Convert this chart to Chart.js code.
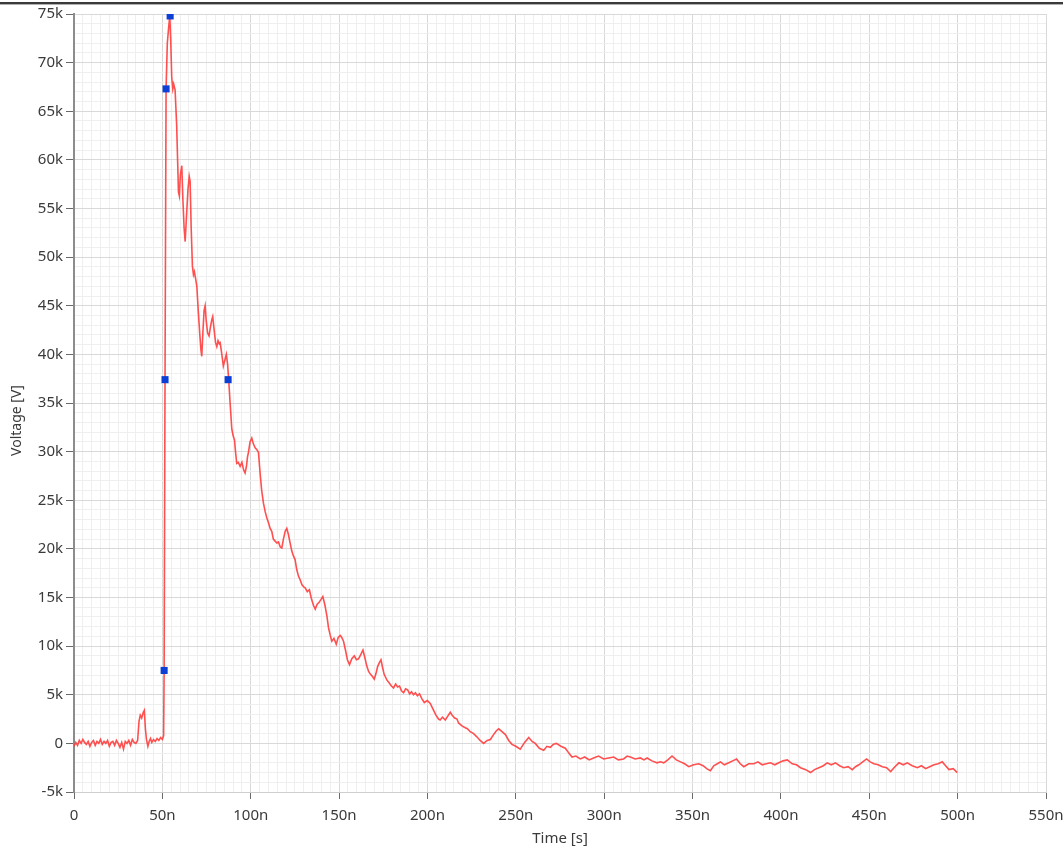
<!DOCTYPE html>
<html>
<head>
<meta charset="utf-8">
<script src="https://cdn.jsdelivr.net/npm/chart.js@4/dist/chart.umd.min.js"></script>
<style>
  html, body { margin: 0; padding: 0; background: #ffffff; }
  #wrap { position: relative; width: 1063px; height: 851px; }
  #topbar { position: absolute; left: 0; top: 2px; width: 1063px; height: 2px; background: #3a3a3a; }
  #topbar2 { position: absolute; left: 0; top: 4px; width: 1063px; height: 1px; background: #b0b0b0; }
</style>
</head>
<body>
<div id="wrap">
  <canvas id="c"></canvas>
  <div id="topbar"></div>
  <div id="topbar2"></div>
</div>
<script>
// Time in ns, voltage in kV
const timeNs = [
  0,1,2,3,4,5,6,7,8,9,10,11,12,13,14,15,16,17,18,19,20,21,22,23,24,25,26,27,28,29,30,31,32,33,34,35,36,
  36.8,37.5,38.3,39.2,39.8,40.4,41,41.8,42.5,43.3,44,45,46,47,48,49,50,50.7,
  51,51.5,52.1,52.8,53.5,54.2,54.7,55.3,55.9,56.4,57.2,58.1,58.7,59.1,59.6,60.2,61,61.6,62.3,62.9,63.6,64.5,65.2,65.7,66.3,67,67.6,68.1,68.8,69.5,
  70.3,71.2,71.8,72.3,73,73.6,74.2,74.8,75.6,76.4,77.2,78,78.5,79.3,80.1,80.8,81.5,82.2,82.7,83.5,84.5,85.5,86.2,86.9,87.6,88.4,89.3,90.1,90.8,91.5,92.1,93,94,95,96,96.8,97.6,98.2,98.7,99.6,
  100.6,101.5,102.5,103.5,104.4,105.3,106.2,107.2,108.2,109.1,110,111,111.9,112.8,113.8,114.8,115.7,116.7,117.6,118.5,119.5,120.4,121.3,122.3,123.2,124.1,125.1,126,127,128,129,130,130.8,132,133.2,134.3,135.5,136.5,137.6,138.7,139.8,140.8,142,143.1,144,145,145.9,147.1,148.4,149.5,
  150.6,151.5,152.5,153.6,154.7,155.9,157.2,158.6,159.8,161,162.2,163.5,164.6,165.6,166.7,167.8,168.8,169.9,170.9,171.8,172.8,173.7,174.6,175.5,176.3,177.1,178.4,179.6,180.8,182,183.1,184.2,185.3,186.5,187.6,188.8,189.9,191,192.1,193.2,194.3,195.5,196.8,198.2,199.9,
  201.6,203.2,204.8,206.3,207.2,208.5,210.1,211.5,212.9,214,215.4,216.7,217.6,219.5,221.4,222.6,224.2,226.1,227.8,229.8,231.8,233.8,235.6,237.4,239,240.3,242.2,244.1,246,247.8,250,252.5,255,257.3,259.2,261,263.3,265.8,267.6,269.5,271.2,272.9,275.5,278,280,281.8,284,286.5,289,291.5,294,296.8,299.7,
  302.5,305.4,308,311,313,314.8,317.5,320.5,322.5,324.3,327,329.9,331.8,333.7,336,338.4,340.8,343.2,345.5,347.9,350.6,353.5,356,358,360.1,362,364,365.8,368,370.5,372.7,374.9,377,379,381.8,384.7,387,389.4,391.7,394.1,396.5,398.8,
  401.2,403.6,406.4,408.8,411.1,414,416.8,419,421.5,424,426.2,428.5,430.9,433.2,435.6,438,440.4,442.2,444.1,446.3,448.5,450.5,452.6,455,457.4,459.8,462.1,464.5,466.8,469.2,471.5,474.3,477.2,479.5,481.9,484.2,486.6,489,491.3,493.2,495.1,497.5,499.8
];
const voltageKV = [
  -0.3,0.1,-0.2,0.3,0.0,0.4,0.1,-0.1,0.2,-0.3,0.1,0.3,-0.2,0.2,0.0,0.4,-0.1,0.2,0.0,0.3,-0.3,0.1,0.2,-0.2,0.3,0.0,-0.4,0.1,-0.6,0.2,0.0,0.3,-0.2,0.4,0.1,0.0,0.3,
  2.3,2.9,2.6,3.2,3.4,1.5,0.4,-0.3,0.2,0.5,0.1,0.4,0.2,0.5,0.3,0.6,0.4,0.8,
  7.5,37.4,67.3,72,73.5,74.8,72.5,68.5,67.3,67.8,67.2,63.5,59.5,56.7,56.3,58.5,59.4,56,53,51.6,54,57,58.3,57.8,53,49.1,48.2,48.5,47.8,47,
  44.5,42,40.5,39.8,42.5,44.5,45,43.5,42.2,41.9,42.8,43.6,43.9,42.5,41.2,40.8,41.4,41.1,41.2,40.2,38.8,39.5,40,39,37.2,34.8,32.3,31.6,31.2,29.8,28.8,28.9,28.5,28.9,28.1,27.8,28.5,29.5,29.9,31,
  31.4,30.8,30.4,30.2,29.9,27.8,26,24.7,23.8,23.2,22.7,22.1,21.8,21,20.8,20.6,20.7,20.2,20.1,21,21.8,22.1,21.5,20.6,19.8,19.3,18.9,17.9,17.2,16.8,16.3,16.1,16,15.6,15.8,14.9,14.2,13.8,14.3,14.5,14.8,15.1,14.2,13.1,11.9,11.1,10.5,10.8,10.2,10.9,
  11.1,10.9,10.5,9.6,8.6,8.1,8.7,9,8.6,8.7,9.1,9.6,8.8,8,7.4,7.1,6.9,6.6,7.2,7.9,8.3,8.6,7.8,7.1,6.8,6.5,6.2,5.9,5.7,6.1,5.8,5.9,5.4,5.2,5.6,5.5,5.1,5.3,5,5.2,4.9,5.1,4.6,4.2,4.4,
  4.1,3.5,2.9,2.5,2.4,2.7,2.4,2.8,3.2,2.9,2.6,2.5,2.1,1.8,1.6,1.5,1.2,1,0.7,0.3,0,0.3,0.4,0.9,1.3,1.5,1.2,0.9,0.3,-0.1,-0.3,-0.6,0.1,0.6,0.2,0,-0.5,-0.7,-0.3,-0.4,-0.1,0,-0.3,-0.5,-1,-1.4,-1.3,-1.6,-1.4,-1.7,-1.5,-1.3,-1.6,
  -1.5,-1.4,-1.7,-1.6,-1.3,-1.4,-1.6,-1.5,-1.7,-1.5,-1.8,-2,-1.9,-2,-1.7,-1.3,-1.7,-1.9,-2.1,-2.4,-2.2,-2.1,-2.3,-2.6,-2.8,-2.3,-2.1,-1.9,-2.2,-2,-1.8,-1.6,-2.1,-2.4,-2.1,-2.1,-1.9,-2.2,-2.1,-2,-2.2,-2,
  -1.8,-1.7,-2.1,-2.2,-2.5,-2.7,-3,-2.7,-2.5,-2.3,-2,-2.2,-2,-2.3,-2.5,-2.4,-2.7,-2.4,-2.2,-1.9,-1.6,-1.9,-2.1,-2.2,-2.4,-2.5,-2.9,-2.4,-2,-2.2,-2,-2.3,-2.5,-2.3,-2.6,-2.4,-2.2,-2.1,-1.9,-2.3,-2.7,-2.6,-3
];
// Measurement markers (10%, 50%, 90%, peak, 50% fall)
const markerTimeNs = [51, 51.5, 52.1, 54.4, 87.2];
const markerVoltageKV = [7.5, 37.4, 67.3, 74.8, 37.4];

const xMin = 0, xMax = 550, xStep = 5, xMajor = 50;
const yMin = -5, yMax = 75, yStep = 1, yMajor = 5;

const traceData = timeNs.map((t, i) => ({ x: t, y: voltageKV[i] }));
const markerData = markerTimeNs.map((t, i) => ({ x: t, y: markerVoltageKV[i] }));

const FONT = "'Noto Sans', 'Open Sans', sans-serif";
const TEXT = '#3a3a3a';
const isMajor = (v, m) => Math.abs(v % m) < 1e-6;

new Chart(document.getElementById('c'), {
  type: 'line',
  data: {
    datasets: [
      {
        data: traceData,
        borderColor: 'rgba(255,60,60,0.9)',
        borderWidth: 1.6,
        pointRadius: 0,
        tension: 0,
        order: 2
      },
      {
        data: markerData,
        showLine: false,
        pointStyle: 'rect',
        pointRadius: 5,
        pointBackgroundColor: '#0b3fd6',
        pointBorderColor: '#0b3fd6',
        pointBorderWidth: 0,
        order: 1
      }
    ]
  },
  options: {
    responsive: true,
    maintainAspectRatio: false,
    animation: false,
    events: [],
    layout: { padding: { left: 0, right: 17, top: 14, bottom: 0 } },
    plugins: { legend: { display: false }, tooltip: { enabled: false } },
    scales: {
      x: {
        type: 'linear',
        min: xMin, max: xMax,
        afterFit: s => { s.height = 59; s.paddingLeft = 0; s.paddingRight = 0; },
        border: { display: true, color: '#cfcfcf', width: 1 },
        grid: {
          color: c => isMajor(c.tick.value, xMajor) ? '#d9d9d9' : '#efefef',
          tickColor: c => isMajor(c.tick.value, xMajor) ? '#6a6a6a' : 'rgba(0,0,0,0)',
          tickLength: 7,
          lineWidth: 1
        },
        ticks: {
          stepSize: xStep,
          autoSkip: false,
          maxRotation: 0,
          padding: 8,
          color: TEXT,
          font: { family: FONT, size: 15 },
          callback: v => isMajor(v, xMajor) ? (v === 0 ? '0' : v + 'n') : ''
        },
        title: {
          display: true, text: 'Time [s]', color: TEXT,
          font: { family: FONT, size: 15 },
          padding: { top: 0, bottom: 3 }
        }
      },
      y: {
        type: 'linear',
        min: yMin, max: yMax,
        afterFit: s => { s.width = 74; s.paddingTop = 0; s.paddingBottom = 0; },
        border: { display: true, color: '#8c8c8c', width: 2 },
        grid: {
          color: c => isMajor(c.tick.value, yMajor) ? '#d9d9d9' : '#efefef',
          tickColor: c => isMajor(c.tick.value, yMajor) ? '#6a6a6a' : 'rgba(0,0,0,0)',
          tickLength: 8,
          lineWidth: 1
        },
        ticks: {
          stepSize: yStep,
          autoSkip: false,
          padding: 3,
          color: TEXT,
          font: { family: FONT, size: 15 },
          callback: v => isMajor(v, yMajor) ? (v === 0 ? '0' : v + 'k') : ''
        },
        title: {
          display: true, text: 'Voltage [V]\u2003\u2003\u2002', color: TEXT,
          font: { family: FONT, size: 14 },
          padding: { top: 9, bottom: 0 }
        }
      }
    }
  }
});
</script>
</body>
</html>
